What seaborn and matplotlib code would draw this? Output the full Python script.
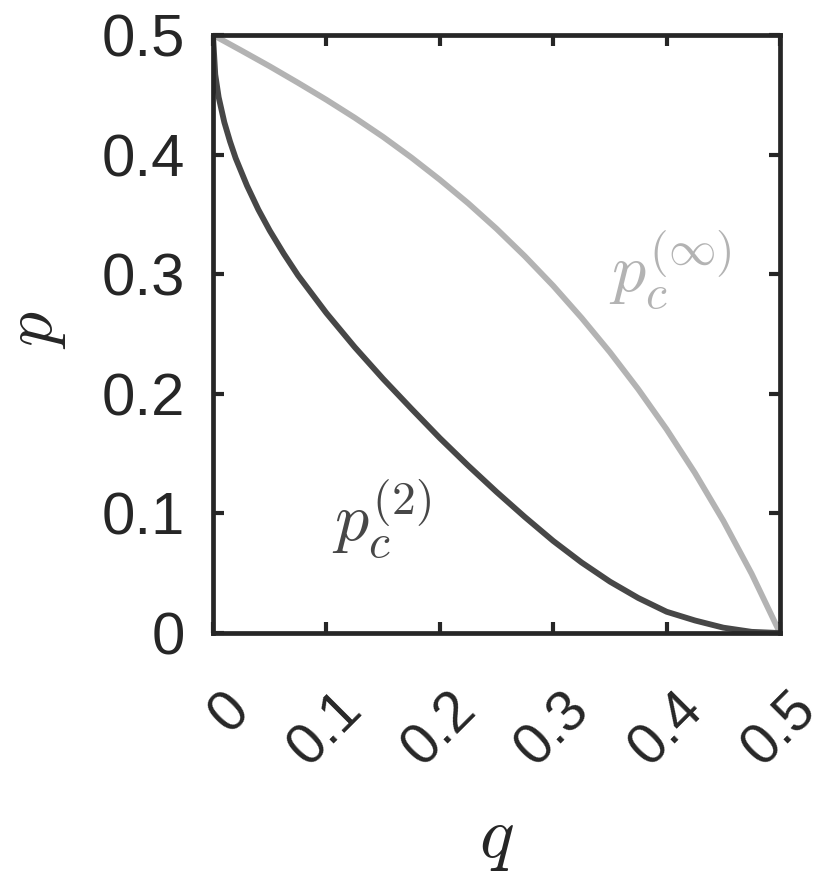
import numpy as np
import pandas as pd
import matplotlib
matplotlib.use("Agg")
import matplotlib.pyplot as plt
import matplotlib.transforms as mtransforms
import seaborn as sns

# curve p_c^(2)
q_two = [0, 0.002, 0.005, 0.01, 0.015, 0.02, 0.03, 0.04, 0.05, 0.0625, 0.075,
         0.1, 0.125, 0.15, 0.175, 0.2, 0.225, 0.25, 0.275, 0.3, 0.325, 0.35,
         0.375, 0.4, 0.425, 0.45, 0.475, 0.5]
p_two = [0.5, 0.467, 0.448, 0.427, 0.411, 0.397, 0.374, 0.354, 0.3365, 0.317, 0.299,
         0.2675, 0.239, 0.2125, 0.1875, 0.163, 0.14, 0.118, 0.097, 0.077, 0.059, 0.043,
         0.0293, 0.0178, 0.0105, 0.0045, 0.001, 0.0]
# curve p_c^(inf)
q_inf = [0, 0.025, 0.05, 0.075, 0.1, 0.125, 0.15, 0.175, 0.2, 0.225, 0.25,
         0.275, 0.3, 0.325, 0.35, 0.375, 0.4, 0.425, 0.45, 0.475, 0.5]
p_inf = [0.5, 0.487, 0.4738, 0.46, 0.4458, 0.4308, 0.4148, 0.3975, 0.379, 0.3593, 0.338,
         0.315, 0.2903, 0.2635, 0.2348, 0.2038, 0.1703, 0.1338, 0.0938, 0.0495, 0.0]
ticks = [0, 0.1, 0.2, 0.3, 0.4, 0.5]
tick_labels = ["0", "0.1", "0.2", "0.3", "0.4", "0.5"]

dark = "#474747"
light = "#b3b3b3"
axcol = "#262626"

sns.set_theme(style="ticks")
plt.rcParams["font.family"] = ["Liberation Sans", "DejaVu Sans"]
plt.rcParams["mathtext.fontset"] = "cm"

df_two = pd.DataFrame({"q": q_two, "p": p_two})
df_inf = pd.DataFrame({"q": q_inf, "p": p_inf})

fig = plt.figure(figsize=(8.3, 8.85), dpi=100)
ax = fig.add_axes([0.2566, 0.2847, 0.6832, 0.6758])

sns.lineplot(data=df_inf, x="q", y="p", color=light, linewidth=4.2, ax=ax, sort=False)
sns.lineplot(data=df_two, x="q", y="p", color=dark, linewidth=4.2, ax=ax, sort=False)

ax.set_xlim(0, 0.5)
ax.set_ylim(0, 0.5)
ax.set_xticks(ticks)
ax.set_yticks(ticks)
ax.set_yticklabels(tick_labels, fontsize=43, color=axcol)
ax.set_xticklabels(tick_labels, fontsize=41, color=axcol, rotation=45,
                   ha="right", va="center", rotation_mode="anchor")
ax.tick_params(axis="both", direction="in", length=8, width=3, color=axcol,
               top=True, right=True)
ax.tick_params(axis="y", pad=20)
ax.tick_params(axis="x", pad=49)
# shift rotated labels a bit to the right, like the original
shift = mtransforms.ScaledTranslation(0.28, 0, fig.dpi_scale_trans)
for lab in ax.get_xticklabels():
    lab.set_transform(lab.get_transform() + shift)
for s in ax.spines.values():
    s.set_linewidth(3.4)
    s.set_color(axcol)
    s.set_visible(True)

ax.set_xlabel("$q$", fontsize=52, color=axcol)
ax.set_ylabel("$p$", fontsize=50, color=axcol)
ax.xaxis.set_label_coords(0.5, -0.29)
ax.yaxis.set_label_coords(-0.256, 0.507)

ax.text(0.403, 0.304, r"$p_c^{(\infty)}$", fontsize=49, color=light,
        ha="center", va="center")
ax.text(0.149, 0.096, r"$p_c^{(2)}$", fontsize=49, color=dark,
        ha="center", va="center")

fig.savefig("out.png", dpi=100)
